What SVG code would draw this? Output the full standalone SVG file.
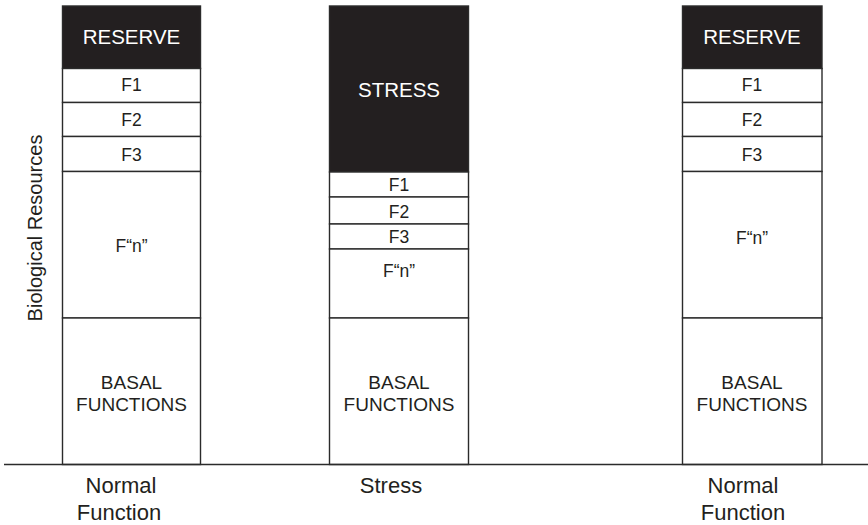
<svg xmlns="http://www.w3.org/2000/svg" width="868" height="525" viewBox="0 0 868 525">
<style>
.box{fill:#fff;stroke:#2b2b2b;stroke-width:1.4}
.dark{fill:#231f20;stroke:#2b2b2b;stroke-width:1.4}
text{font-family:"Liberation Sans",Arial,sans-serif;text-anchor:middle;fill:#231f20}
.w{fill:#fff;font-size:20.5px}
.f{font-size:17.5px}
.b{font-size:19px}
.lbl{font-size:22px}
.ax{font-size:20px}
</style>
<rect width="868" height="525" fill="#fff"/>
<g id="col-normal-1">
<rect class="dark" x="62.5" y="6" width="138" height="62.5"/>
<text class="w" x="131.5" y="44">RESERVE</text>
<rect class="box" x="62.5" y="68.5" width="138" height="34"/>
<text class="f" x="131.5" y="91">F1</text>
<rect class="box" x="62.5" y="102.5" width="138" height="34"/>
<text class="f" x="131.5" y="126">F2</text>
<rect class="box" x="62.5" y="136.5" width="138" height="35"/>
<text class="f" x="131.5" y="161">F3</text>
<rect class="box" x="62.5" y="171.5" width="138" height="146.5"/>
<text class="f" x="131.5" y="252">F“n”</text>
<rect class="box" x="62.5" y="318" width="138" height="146.5"/>
<text class="b" x="131.5" y="389">BASAL</text>
<text class="b" x="131.5" y="411">FUNCTIONS</text>
</g>
<g id="col-stress">
<rect class="dark" x="329.5" y="6" width="139" height="166"/>
<text class="w" x="399" y="97">STRESS</text>
<rect class="box" x="329.5" y="172" width="139" height="25"/>
<text class="f" x="399" y="191">F1</text>
<rect class="box" x="329.5" y="197" width="139" height="27"/>
<text class="f" x="399" y="218">F2</text>
<rect class="box" x="329.5" y="224" width="139" height="25"/>
<text class="f" x="399" y="243">F3</text>
<rect class="box" x="329.5" y="249" width="139" height="69"/>
<text class="f" x="399" y="277">F“n”</text>
<rect class="box" x="329.5" y="318" width="139" height="146.5"/>
<text class="b" x="399" y="389">BASAL</text>
<text class="b" x="399" y="411">FUNCTIONS</text>
</g>
<g id="col-normal-2">
<rect class="dark" x="682.5" y="6" width="139.5" height="62.5"/>
<text class="w" x="752" y="44">RESERVE</text>
<rect class="box" x="682.5" y="68.5" width="139.5" height="34"/>
<text class="f" x="752" y="91">F1</text>
<rect class="box" x="682.5" y="102.5" width="139.5" height="34"/>
<text class="f" x="752" y="126">F2</text>
<rect class="box" x="682.5" y="136.5" width="139.5" height="35"/>
<text class="f" x="752" y="161">F3</text>
<rect class="box" x="682.5" y="171.5" width="139.5" height="146.5"/>
<text class="f" x="752" y="244">F“n”</text>
<rect class="box" x="682.5" y="318" width="139.5" height="146.5"/>
<text class="b" x="752" y="389">BASAL</text>
<text class="b" x="752" y="411">FUNCTIONS</text>
</g>
<g id="connectors">
<line x1="4" y1="464.5" x2="868" y2="464.5" stroke="#2b2b2b" stroke-width="1.4"/>
</g>
<g id="labels">
<text class="ax" transform="translate(42,228) rotate(-90)">Biological Resources</text>
<text class="lbl" x="121" y="493">Normal</text>
<text class="lbl" x="119" y="520">Function</text>
<text class="lbl" x="391" y="493">Stress</text>
<text class="lbl" x="743" y="493">Normal</text>
<text class="lbl" x="743" y="520">Function</text>
</g>
</svg>
